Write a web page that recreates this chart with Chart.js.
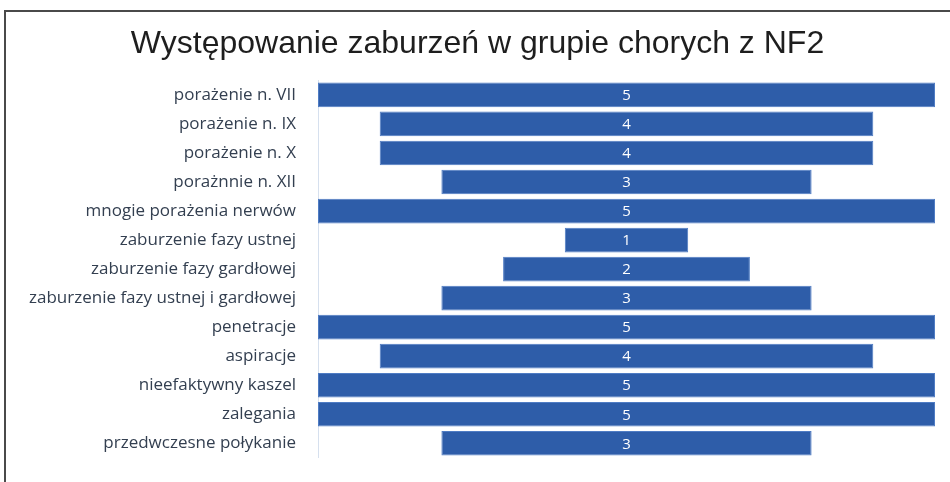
<!DOCTYPE html>
<html>
<head>
<meta charset="utf-8">
<script src="https://cdn.jsdelivr.net/npm/chart.js@4.4.0/dist/chart.umd.min.js"></script>
<style>
    body { margin: 0; background: #fff; overflow: hidden; }
    #frame { position: absolute; left: 4px; top: 10px; width: 1000px; height: 600px; border: 2px solid #4a4a4a; }
    #wrap { position: absolute; left: 0; top: 0; width: 950px; height: 482px; }
</style>
</head>
<body>
<div id="frame"></div>
<div id="wrap"><canvas id="nf2Chart" width="950" height="482"></canvas></div>
<script>
    // ==================== DATA ====================
    let categories = [
        'porażenie n. VII',
        'porażenie n. IX',
        'porażenie n. X',
        'porażnnie n. XII',
        'mnogie porażenia nerwów',
        'zaburzenie fazy ustnej',
        'zaburzenie fazy gardłowej',
        'zaburzenie fazy ustnej i gardłowej',
        'penetracje',
        'aspiracje',
        'nieefaktywny kaszel',
        'zalegania',
        'przedwczesne połykanie'
    ];
    let counts = [5, 4, 4, 3, 5, 1, 2, 3, 5, 4, 5, 5, 3];
    let chartTitle = 'Występowanie zaburzeń w grupie chorych z NF2';

    // funnel style: each bar is centred on zero
    let centredBars = counts.map(function(v){ return [-v / 2, v / 2]; });

    // ==================== VALUE LABELS ====================
    let valueLabels = {
        id: 'valueLabels',
        afterDatasetsDraw: function(chart){
            let ctx = chart.ctx;
            let meta = chart.getDatasetMeta(0);
            ctx.save();
            ctx.fillStyle = '#ffffff';
            ctx.font = '15px "Open Sans"';
            ctx.textAlign = 'center';
            ctx.textBaseline = 'middle';
            meta.data.forEach(function(bar, i){
                let x = chart.scales.x.getPixelForValue(0);
                ctx.fillText(counts[i], x, bar.y + 1);
            });
            ctx.restore();
        }
    };

    // ==================== CHART ====================
    let ctx = document.getElementById('nf2Chart');
    let nf2Chart = new Chart(ctx, {
        type: 'bar',
        data: {
            labels: categories,
            datasets: [
                {
                    label: 'NF2',
                    data: centredBars,
                    backgroundColor: '#2E5DA9',
                    borderColor: '#4f7cc4',
                    borderWidth: 1,
                    borderSkipped: false,
                    categoryPercentage: 1,
                    barPercentage: 0.85
                }
            ]
        },
        options: {
            indexAxis: 'y',
            responsive: false,
            animation: false,
            layout: {
                padding: { left: 20, right: 15, top: 25, bottom: 16 }
            },
            plugins: {
                legend: { display: false },
                tooltip: { enabled: false },
                title: {
                    display: true,
                    text: chartTitle,
                    color: '#1e1e1e',
                    font: { family: '"Liberation Sans", Arial', size: 32, weight: 'normal' },
                    padding: { top: 0, bottom: 17 }
                }
            },
            scales: {
                x: {
                    display: false,
                    min: -2.5,
                    max: 2.5
                },
                y: {
                    grid: { display: false },
                    border: { display: true, color: '#d6e0ee', width: 1 },
                    ticks: {
                        color: '#333f50',
                        padding: 14,
                        font: { family: '"Open Sans"', size: 17 }
                    },
                    afterFit: function(scale){
                        scale.width = 298;
                    }
                }
            }
        },
        plugins: [valueLabels]
    });
</script>
</body>
</html>
